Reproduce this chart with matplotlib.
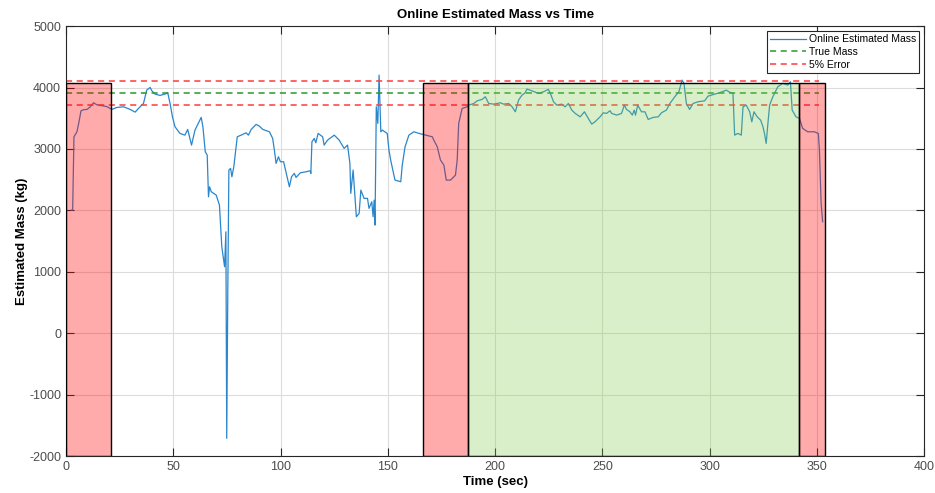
import numpy as np
import matplotlib.pyplot as plt
from matplotlib.patches import Rectangle

# estimated mass trace
time_s = [2.5, 3.1, 3.7, 5.1, 5.9, 7.0, 8.3, 9.8, 11.3, 12.8, 14.4, 16.7, 19.0, 21.4,
          23.7, 26.8, 29.9, 32.2, 34.5, 36.1, 37.6, 39.2, 40.0, 41.5, 43.8, 46.1, 47.4,
          48.5, 49.6, 50.8, 53.1, 55.4, 56.7, 58.5, 60.1, 62.4, 63.0, 63.8, 64.9, 65.8,
          66.4, 66.9, 67.7, 70.0, 71.5, 72.6, 73.9, 74.5, 74.9, 75.4, 75.9, 76.7, 77.3,
          78.2, 79.8, 81.6, 83.9, 85.0, 86.3, 88.6, 90.1, 91.7, 94.8, 96.3, 97.1, 97.9,
          99.0, 99.9, 101.4, 103.0, 104.1, 105.1, 106.4, 107.2, 109.2, 111.8, 113.8, 114.1,
          114.6, 115.7, 116.4, 117.5, 119.6, 120.3, 121.9, 125.0, 127.3, 129.6, 131.2,
          132.3, 132.7, 133.8, 135.3, 136.6, 137.4, 138.9, 140.5, 141.2, 142.5, 143.1,
          143.6, 144.0, 144.6, 145.3, 145.9, 146.7, 147.4, 149.7, 150.5, 151.3, 153.3,
          156.0, 156.7, 158.0, 159.8, 162.1, 164.5, 167.6, 170.7, 171.4, 173.0, 174.5,
          176.1, 177.2, 179.2, 181.5, 182.3, 183.0, 184.6, 186.9, 187.7, 190.0, 191.6,
          193.9, 195.4, 197.0, 199.3, 202.4, 203.9, 206.3, 207.9, 209.4, 210.9, 212.5,
          214.0, 214.8, 217.1, 220.2, 222.5, 224.8, 225.6, 227.2, 228.7, 231.0, 232.6,
          234.1, 235.7, 237.3, 239.6, 241.6, 243.4, 245.0, 246.5, 248.9, 250.4, 251.9,
          253.5, 254.3, 256.6, 258.9, 260.2, 261.2, 262.8, 263.9, 264.8, 265.4, 266.4,
          268.2, 269.8, 271.3, 273.6, 276.0, 277.5, 279.8, 281.4, 283.7, 285.6, 287.1,
          288.0, 289.1, 290.6, 292.2, 294.5, 297.6, 299.2, 302.3, 304.6, 307.7, 309.7,
          310.8, 311.6, 313.1, 314.7, 315.5, 317.0, 318.6, 319.6, 320.6, 322.1, 323.7,
          324.8, 325.5, 326.3, 327.1, 327.9, 329.4, 331.7, 334.0, 336.4, 337.6, 338.4,
          340.2, 341.8, 343.3, 345.6, 348.7, 350.6, 351.1, 351.9, 352.6]
mass_kg = [2005, 2005, 3198, 3280, 3416, 3622, 3640, 3644, 3686, 3752, 3719, 3705, 3690, 3644,
           3676, 3686, 3644, 3600, 3686, 3740, 3958, 4002, 3947, 3893, 3872, 3893, 3915,
           3740, 3523, 3361, 3253, 3225, 3318, 3063, 3307, 3470, 3514, 3361, 2954, 2900,
           2221, 2384, 2303, 2249, 2086, 1407, 1082, 1651, -1712, 702, 2656, 2683, 2547,
           2710, 3198, 3225, 3263, 3225, 3318, 3400, 3372, 3318, 3280, 3172, 2982, 2765,
           2873, 2792, 2792, 2547, 2384, 2547, 2602, 2536, 2612, 2628, 2645, 2602,
           3117, 3172, 3100, 3253, 3198, 3063, 3144, 3225, 3144, 3009, 3063,
           2765, 2277, 2656, 1896, 1950, 2330, 2195, 2195, 2032, 2140, 1896,
           2167, 1760, 3686, 3416, 4202, 3280, 3307, 3253, 2982, 2819, 2493,
           2466, 2737, 3036, 3225, 3280, 3253, 3225, 3198, 3144, 3036, 2819,
           2737, 2493, 2493, 2574, 2819, 3416, 3660, 3686, 3714, 3740, 3784,
           3806, 3850, 3740, 3730, 3752, 3730, 3740, 3686, 3605, 3795, 3877,
           3915, 3975, 3947, 3904, 3931, 3970, 3915, 3768, 3714, 3730, 3686,
           3740, 3633, 3579, 3523, 3605, 3497, 3405, 3442, 3523, 3589, 3579,
           3622, 3579, 3551, 3579, 3714, 3644, 3605, 3551, 3633, 3551, 3714,
           3605, 3605, 3481, 3514, 3523, 3589, 3633, 3740, 3850, 3931, 4121,
           4067, 3740, 3644, 3740, 3768, 3784, 3860, 3893, 3915, 3958, 3915,
           3915, 3225, 3253, 3225, 3686, 3714, 3605, 3442, 3605, 3523, 3470,
           3361, 3253, 3090, 3416, 3714, 3850, 4012, 4067, 4040, 4094, 3633,
           3523, 3497, 3335, 3280, 3280, 3253, 2982, 2114, 1815]

true_mass = 3910
error_pct = 0.05
dash_end = 351

# shaded regions: (start, end, colour)
region_start = [0, 166.4, 187.2, 341.4]
region_end = [21.0, 187.2, 341.4, 353.6]
region_colour = ['red', 'red', 'green', 'red']
region_top = 4070

plt.rcParams['font.family'] = ['Liberation Sans', 'DejaVu Sans']
plt.rcParams['axes.unicode_minus'] = False

fig = plt.figure(figsize=(9.35, 4.93), dpi=100)
ax = fig.add_axes([0.0706, 0.075, 0.918, 0.872])

ax.plot(time_s, mass_kg, color='#2a86cc', lw=0.9, label='Online Estimated Mass', zorder=2)
ax.plot([0, dash_end], [true_mass, true_mass], '--', color='#2a9a2a', lw=1.1,
        dashes=(4, 3), label='True Mass', zorder=2)
ax.plot([0, dash_end], [true_mass * (1 + error_pct)] * 2, '--', color='#ff3b3b', lw=1.1,
        dashes=(4, 3), label='5% Error', zorder=2)
ax.plot([0, dash_end], [true_mass * (1 - error_pct)] * 2, '--', color='#ff3b3b', lw=1.1,
        dashes=(4, 3), zorder=2)

fills = {'red': ((1.0, 0.0, 0.0), 0.33), 'green': ((0.5, 0.8, 0.3), 0.3)}
for x0, x1, c in zip(region_start, region_end, region_colour):
    fc, a = fills[c]
    ax.add_patch(Rectangle((x0, -2000), x1 - x0, region_top + 2000,
                           facecolor=fc + (a,), edgecolor='black', lw=1.0, zorder=3))

ax.set_xlim(0, 400)
ax.set_ylim(-2000, 5000)
ax.set_xticks(np.arange(0, 401, 50))
ax.set_yticks(np.arange(-2000, 5001, 1000))
ax.grid(True, color='#dcdcdc', lw=0.8)
ax.set_axisbelow(True)
ax.tick_params(direction='in', length=6, width=0.8, top=True, right=True,
               labelsize=9, colors='#262626', labelcolor='#4d4d4d')
for s in ax.spines.values():
    s.set_color('#262626')
    s.set_linewidth(0.8)

ax.set_title('Online Estimated Mass vs Time', fontsize=9.5, fontweight='bold', pad=6)
ax.set_xlabel('Time (sec)', fontsize=9.5, fontweight='bold', labelpad=2)
ax.set_ylabel('Estimated Mass (kg)', fontsize=9.5, fontweight='bold', labelpad=1)

leg = ax.legend(loc='upper right', fontsize=7.5, handlelength=3.4, handletextpad=0.3,
                borderaxespad=0.5, borderpad=0.3, labelspacing=0.25, fancybox=False,
                framealpha=1, edgecolor='#262626')
leg.get_frame().set_linewidth(0.8)
leg.set_zorder(5)

fig.savefig('out.png', dpi=100)
plt.close()
